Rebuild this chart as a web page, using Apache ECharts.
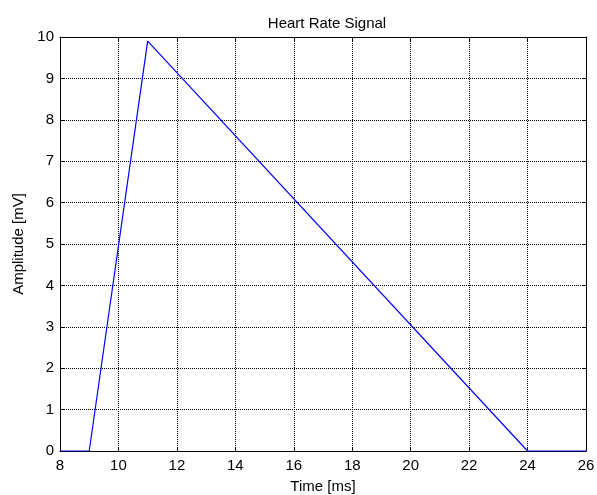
<!DOCTYPE html>
<html>
<head>
<meta charset="utf-8">
<script src="https://cdn.jsdelivr.net/npm/echarts@6/dist/echarts.min.js"></script>
<style>
  html, body { margin: 0; padding: 0; background: #fff; }
  #main { width: 597px; height: 495px; }
</style>
</head>
<body>
<div id="main"></div>
<script>
// signal data
var timeMs = [8, 9, 11, 24, 26];
var amplitude = [0, 0, 9.9, 0, 0];

var chart = echarts.init(document.getElementById('main'));

var font = 'Liberation Sans, Arial, sans-serif';
var fs = 15;
var points = timeMs.map(function (t, i) { return [t, amplitude[i]]; });

var gridLine = { show: true, lineStyle: { color: '#000', type: [1, 1], width: 1 } };
var boxLine = { show: true, onZero: false, lineStyle: { color: '#000', width: 1 } };
var tickIn = { show: true, inside: true, length: 4, lineStyle: { color: '#000' } };

var option = {
  animation: false,
  backgroundColor: '#fff',
  title: {
    text: 'Heart Rate Signal',
    left: 322,
    textAlign: 'center',
    top: 11,
    textStyle: { fontFamily: font, fontSize: fs, fontWeight: 'normal', color: '#000' }
  },
  grid: { left: 60, right: 11, top: 37, bottom: 44, containLabel: false, outerBoundsMode: 'none' },
  xAxis: [{
    type: 'value',
    min: 8, max: 26, interval: 2,
    name: 'Time [ms]',
    nameLocation: 'middle',
    nameGap: 28,
    nameTextStyle: { fontFamily: font, fontSize: fs, color: '#000' },
    axisLine: boxLine,
    axisTick: tickIn,
    splitLine: gridLine,
    axisLabel: { fontFamily: font, fontSize: fs, color: '#000', margin: 7 }
  }, {
    type: 'value', position: 'top',
    min: 8, max: 26, interval: 2,
    axisLine: boxLine, axisTick: tickIn,
    axisLabel: { show: false }, splitLine: { show: false }
  }],
  yAxis: [{
    type: 'value',
    min: 0, max: 10, interval: 1,
    name: 'Amplitude [mV]',
    nameLocation: 'middle',
    nameGap: 31,
    nameTextStyle: { fontFamily: font, fontSize: fs, color: '#000' },
    axisLine: boxLine,
    axisTick: tickIn,
    splitLine: gridLine,
    axisLabel: { fontFamily: font, fontSize: fs, color: '#000', margin: 6 }
  }, {
    type: 'value', position: 'right',
    min: 0, max: 10, interval: 1,
    axisLine: boxLine, axisTick: tickIn,
    axisLabel: { show: false }, splitLine: { show: false }
  }],
  series: [{
    type: 'line',
    data: points,
    showSymbol: false,
    lineStyle: { color: '#0000ff', width: 1.2 },
    z: 5
  }]
};

chart.setOption(option);
</script>
</body>
</html>
